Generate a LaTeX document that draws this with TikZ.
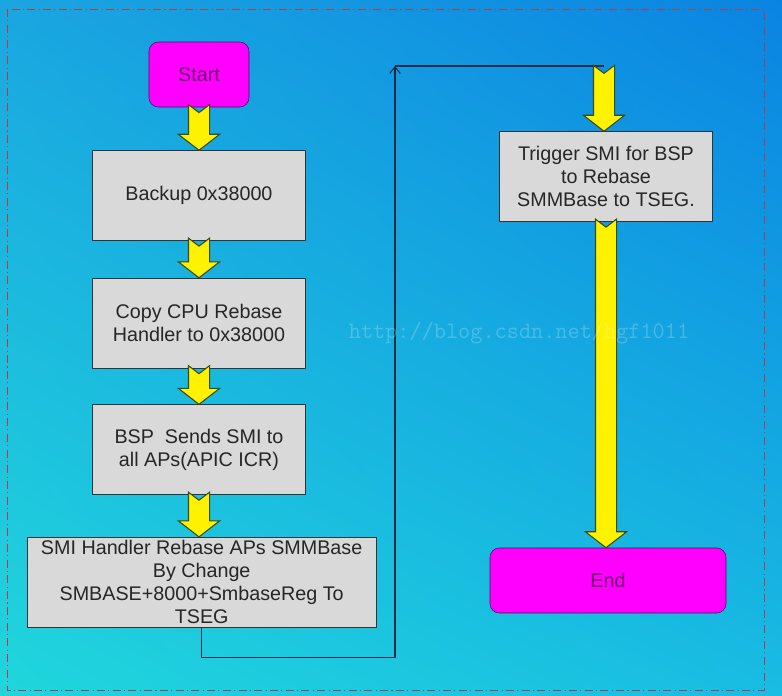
\documentclass[tikz,border=0pt]{standalone}
\usepackage{fontspec}
\setmainfont{Liberation Sans}
\usepackage{tikz}
\usetikzlibrary{calc,positioning,shadings,arrows.meta}
\definecolor{bgUL}{HTML}{1AA6E0}
\definecolor{bgUR}{HTML}{0A84E2}
\definecolor{bgLL}{HTML}{20D6DC}
\definecolor{bgLR}{HTML}{19BCE2}
\definecolor{boxgray}{HTML}{D9D9D9}
\definecolor{boxline}{HTML}{333333}
\definecolor{termfill}{HTML}{FF00FF}
\definecolor{termline}{HTML}{4B0A5E}
\definecolor{termtext}{HTML}{70086E}
\definecolor{linkcol}{HTML}{1A2B4A}
\definecolor{framecol}{HTML}{A8404E}
\definecolor{arrowline}{HTML}{3A4A1A}
\newcommand{\BlockArrow}[2]{%
  \path let \p1=#1, \p2=#2 in
    [yarrow] ({\x1-7.9pt},{\y1+2pt}) -- (\x1,{\y1-4pt}) -- ({\x1+7.9pt},{\y1+2pt})
    -- ({\x1+7.9pt},{\y2+12pt}) -- ({\x1+15.5pt},{\y2+12pt}) -- (\x1,\y2)
    -- ({\x1-15.5pt},{\y2+12pt}) -- ({\x1-7.9pt},{\y2+12pt}) -- cycle;}

\begin{document}
\begin{tikzpicture}[x=0.75pt,y=-0.75pt,>={Straight Barb[length=5pt,width=8pt]}
        ,every node/.style={font=\fontsize{14.8}{17.4}\selectfont}
        ,stepbox/.style = {draw=boxline,fill=boxgray,text=black!85,rectangle,
                           minimum width=160pt,minimum height=67.5pt,inner sep=0pt,align=center}
        ,terminal/.style = {draw=termline,fill=termfill,text=termtext,rectangle,
                            rounded corners=7pt,minimum height=48.75pt,inner sep=0pt}
        ,yarrow/.style = {draw=arrowline,fill=yellow,line width=0.8pt,line join=miter}
        ,link/.style = {draw=linkcol,line width=0.8pt}
        ,frame/.style = {draw=framecol,line width=0.7pt,dash pattern=on 6pt off 2.5pt on 0.8pt off 2.5pt}
      ]

      % background and frame
      \shade[upper left=bgUL,upper right=bgUR,lower left=bgLL,lower right=bgLR] (0,0) rectangle (782,696);
      \useasboundingbox (0,0) rectangle (782,696);
      \draw[frame] (7,9) rectangle (764,690);

      % left column
      \node[terminal,minimum width=75pt](start) at (199,74.5) {Start};
      \node[stepbox](backup) [below=32.25pt of start] {Backup 0x38000};
      \node[stepbox](copy) [below=27.75pt of backup] {Copy CPU Rebase\\Handler to 0x38000};
      \node[stepbox](bsp) [below=27pt of copy] {BSP\ \ Sends SMI to\\all APs(APIC ICR)};
      \node[stepbox,minimum width=262pt](smi) [below=31.5pt of bsp,xshift=2pt]
        {SMI Handler Rebase APs SMMBase\\By Change\\SMBASE+8000+SmbaseReg To\\TSEG};

      % right column
      \node[stepbox](trigger) at (606,176.5) {Trigger SMI for BSP\\to Rebase\\SMMBase to TSEG.};
      \node[terminal,minimum width=177pt](end) at (608,580.5) {End};
      \coordinate (tail) at (604,68);
      \coordinate (turn) at (395,66);

      % connector to the right column
      \draw[link,->] (smi.south) -- ++(0,30) -| (turn);
      \draw[link] (turn) -- (turn -| tail);

      % block arrows
      \BlockArrow{(start.south)}{(backup.north)}
      \BlockArrow{(backup.south)}{(copy.north)}
      \BlockArrow{(copy.south)}{(bsp.north)}
      \BlockArrow{(bsp.south)}{(smi.north -| bsp.south)}
      \BlockArrow{(tail)}{(trigger.north)}
      \BlockArrow{(trigger.south)}{(end.north)}

      % watermark
      \node[font=\ttfamily\fontsize{17.7}{20}\selectfont,text=white,text opacity=0.22](mark) at (519,333) {http://blog.csdn.net/hgf1011};
    \end{tikzpicture}
\end{document}
